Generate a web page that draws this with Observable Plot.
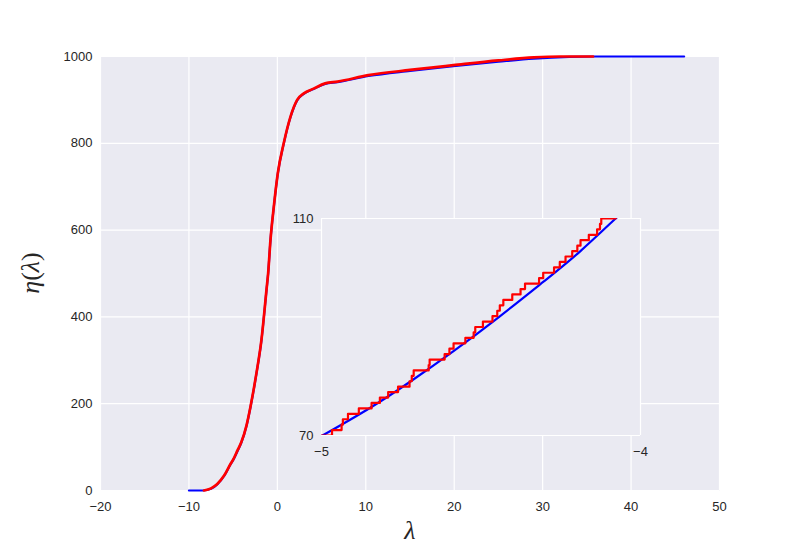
<!DOCTYPE html>
<html>
<head>
<meta charset="utf-8">
<script src="https://cdn.jsdelivr.net/npm/d3@7"></script>
<script src="https://cdn.jsdelivr.net/npm/@observablehq/plot@0.6"></script>
<style>
  html, body { margin: 0; padding: 0; background: white; }
  #wrap { position: relative; width: 800px; height: 545px; overflow: hidden; }
  #wrap svg { position: absolute; max-width: none; }
  .lbl { position: absolute; font-family: "Liberation Serif", "DejaVu Serif", serif; color: #262626; white-space: nowrap; }
</style>
</head>
<body>
<div id="wrap"></div>
<script>
// ---- Main chart data ----
const mainXTicks = [-20, -10, 0, 10, 20, 30, 40, 50];
const mainYTicks = [0, 200, 400, 600, 800, 1000];
// smooth counting curve (blue)
const blueX = [-10, -8.4, -7.5, -6.8, -6, -5.3, -5, -4.5, -4.08, -3.5, -3.04, -2.36, -1.8, -1.23, -1.04, -0.78, -0.4, 0.05, 0.72, 1.48, 2.24, 2.99, 4.1, 5.4, 6.8, 10.3, 15, 19.9, 25, 29, 33, 36, 46];
const blueY = [0, 0, 4, 14, 34, 60, 70, 91, 110, 148, 192, 270, 346, 461, 500, 576, 653, 730, 799, 860, 899, 914, 925, 937, 941, 955, 967, 978, 988, 995, 999, 1000, 1000];
// eigenvalue counting function (red), main view
const redX = [-8.3, -7.5, -6.8, -6, -5.3, -5, -4.5, -4.08, -3.5, -3.04, -2.36, -1.8, -1.23, -1.04, -0.78, -0.4, 0.05, 0.72, 1.48, 2.24, 2.99, 4.1, 5.4, 6.8, 10.3, 15, 19.9, 25, 29, 32, 35.7];
const redY = [0, 5, 15, 35, 61, 71, 93, 111, 149, 193, 271, 347, 462, 501, 577, 654, 731, 800, 861, 900, 915, 926, 938, 942, 957, 969, 980, 991, 998, 1000, 1000];

// ---- Inset data ----
const insetXTicks = [-5, -4];
const insetYTicks = [70, 110];
const insetBlueX = [-5.03, -5, -4.856, -4.72, -4.585, -4.449, -4.303, -4.19, -4.078, -4.04];
const insetBlueY = [68.9, 69.9, 74.8, 80.0, 85.6, 91.6, 98.4, 103.9, 110, 112];
// jump positions of the step function and the level reached
const stepX = [-5.05, -4.967, -4.937, -4.933, -4.917, -4.883, -4.843, -4.817, -4.791, -4.760, -4.724, -4.717, -4.711, -4.664, -4.661, -4.614, -4.599, -4.586, -4.549, -4.523, -4.518, -4.494, -4.464, -4.449, -4.441, -4.430, -4.402, -4.376, -4.362, -4.318, -4.305, -4.271, -4.253, -4.235, -4.214, -4.198, -4.188, -4.162, -4.136, -4.127, -4.123, -4.078];
const stepY = [70, 71, 72, 73, 74, 75, 76, 77, 78, 79, 80, 81, 82, 83, 84, 85, 86, 87, 88, 89, 90, 91, 92, 93, 94, 95, 96, 97, 98, 99, 100, 101, 102, 103, 104, 105, 106, 107, 108, 109, 110, 111];

const zip = (xs, ys) => xs.map((x, i) => ({x, y: ys[i]}));
const fmt = d => (d < 0 ? "\u2212" + Math.abs(d) : String(d));
const BG = "#EAEAF2";
const axisStyle = {fontFamily: "'Liberation Sans', Arial, sans-serif", fontSize: "13px", color: "#262626", background: "transparent", overflow: "visible"};

const main = Plot.plot({
  width: 800, height: 545,
  marginLeft: 100, marginRight: 81, marginTop: 56, marginBottom: 55,
  x: {domain: [-20, 50], ticks: mainXTicks, tickSize: 0, tickPadding: 11, tickFormat: fmt, label: null},
  y: {domain: [0, 1000], ticks: mainYTicks, tickSize: 0, tickPadding: 8, tickFormat: fmt, label: null},
  style: axisStyle,
  marks: [
    Plot.frame({fill: BG, stroke: null}),
    Plot.ruleX(mainXTicks, {stroke: "white", strokeWidth: 1.2}),
    Plot.ruleY(mainYTicks, {stroke: "white", strokeWidth: 1.2}),
    Plot.line(zip(blueX, blueY), {x: "x", y: "y", stroke: "#0000FF", strokeWidth: 2.2, curve: "monotone-x"}),
    Plot.line(zip(redX, redY), {x: "x", y: "y", stroke: "#FF0000", strokeWidth: 2.7, curve: "monotone-x"})
  ]
});
main.style.left = "0px"; main.style.top = "0px";
main.style.background = "transparent";

const inset = Plot.plot({
  width: 379, height: 252,
  marginLeft: 40, marginRight: 20, marginTop: 10, marginBottom: 25,
  x: {domain: [-5, -4], ticks: insetXTicks, tickSize: 0, tickPadding: 11, tickFormat: fmt, label: null},
  y: {domain: [70, 110], ticks: insetYTicks, tickSize: 0, tickPadding: 8, tickFormat: fmt, label: null},
  style: axisStyle,
  marks: [
    Plot.frame({fill: BG, stroke: null}),
    Plot.ruleX(insetXTicks, {stroke: "white", strokeWidth: 1.2}),
    Plot.ruleY(insetYTicks, {stroke: "white", strokeWidth: 1.2}),
    Plot.line(zip(insetBlueX, insetBlueY), {x: "x", y: "y", stroke: "#0000FF", strokeWidth: 2.2, curve: "natural", clip: true}),
    Plot.line(zip(stepX, stepY), {x: "x", y: "y", stroke: "#FF0000", strokeWidth: 2.2, curve: "step-after", clip: true})
  ]
});
inset.style.left = "281px"; inset.style.top = "208px";
inset.style.background = "transparent";

const wrap = document.getElementById("wrap");
wrap.appendChild(main);
wrap.appendChild(inset);

const xl = document.createElement("div");
xl.className = "lbl";
xl.style.cssText += "left:410px;top:531px;transform:translate(-50%,-50%);font-size:26px;font-style:italic;";
xl.textContent = "λ";
wrap.appendChild(xl);

const yl = document.createElement("div");
yl.className = "lbl";
yl.style.cssText += "left:31px;top:273px;transform:translate(-50%,-50%) rotate(-90deg);font-size:26px;";
yl.innerHTML = "<i>η</i>(<i>λ</i>)";
wrap.appendChild(yl);
</script>
</body>
</html>
